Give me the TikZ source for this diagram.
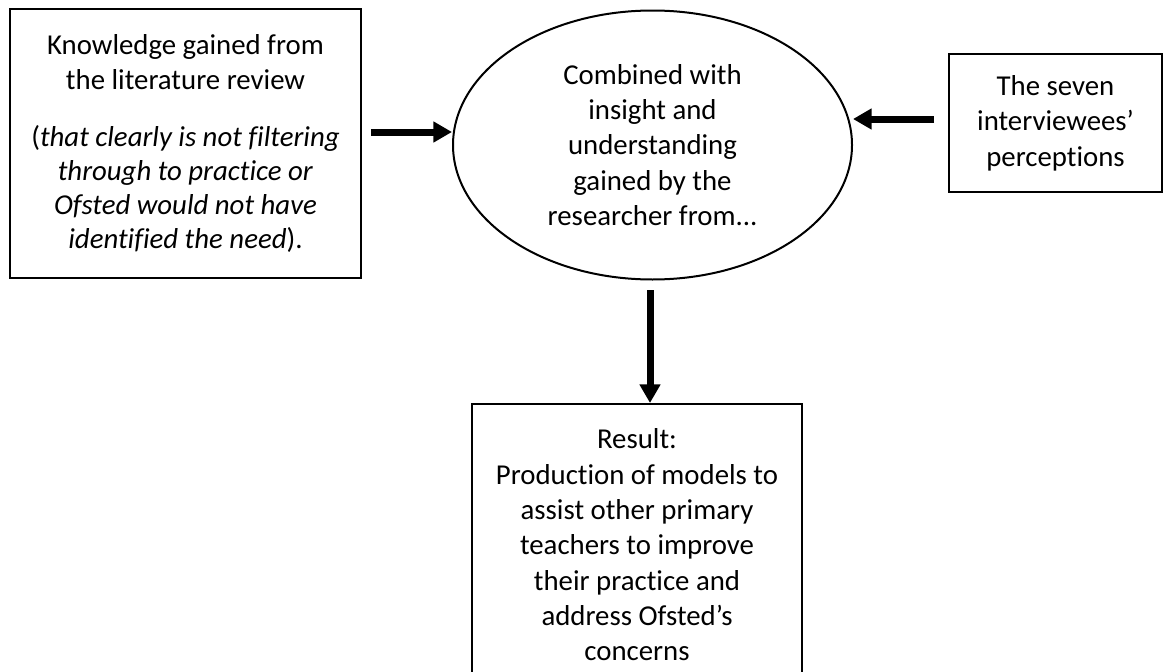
\documentclass[tikz,border=0pt]{standalone}
\usepackage{fontspec}
\setmainfont{Carlito}[Ligatures=NoCommon]
\usetikzlibrary{shapes.geometric,arrows.meta}
\begin{document}
\begin{tikzpicture}[x=0.75pt,y=-0.75pt,
  txt/.style={align=center,font=\fontsize{21.6}{26.5}\selectfont},
  box/.style={draw,line width=1.5pt,rectangle,inner sep=0pt,txt},
  oval/.style={draw,line width=1.5pt,ellipse,inner sep=0pt,txt},
  arr/.style={line width=5.25pt,-{Triangle[length=14pt,width=15pt]}}]
\useasboundingbox (0,0) rectangle (1163,671);
\clip (0,0) rectangle (1163,671);
\node[box,minimum width=351*0.75pt,minimum height=269*0.75pt] (lbox) at (185.5,143.5)
  {Knowledge gained from\\ the literature review\\[0.75em]
   (\textit{that clearly is not filtering}\\[-1pt] \textit{through to practice or}\\[-1pt]
   \textit{Ofsted would not have}\\[-1pt] \textit{identified the need}).};
\node[oval,minimum width=399*0.75pt,minimum height=269*0.75pt] (ell) at (652.5,145)
  {Combined with\\ insight and\\ understanding\\ gained by the\\ researcher from...};
\node[box,minimum width=213*0.75pt,minimum height=138*0.75pt] (rbox) at (1055.5,123)
  {The seven\\ interviewees’\\ perceptions};
\node[box,minimum width=330*0.75pt,minimum height=282*0.75pt] (bbox) at (637,545)
  {Result:\\ Production of models to\\ assist other primary\\ teachers to improve\\ their practice and\\ address Ofsted’s\\ concerns};
\coordinate (la) at (371,132);
\coordinate (ra) at (934,119);
\coordinate (da) at (650,290);
\draw[arr] (la) -- (la -| ell.west);
\draw[arr] (ra) -- (ra -| ell.east);
\draw[arr] (da) -- (da |- bbox.north);
\end{tikzpicture}
\end{document}
